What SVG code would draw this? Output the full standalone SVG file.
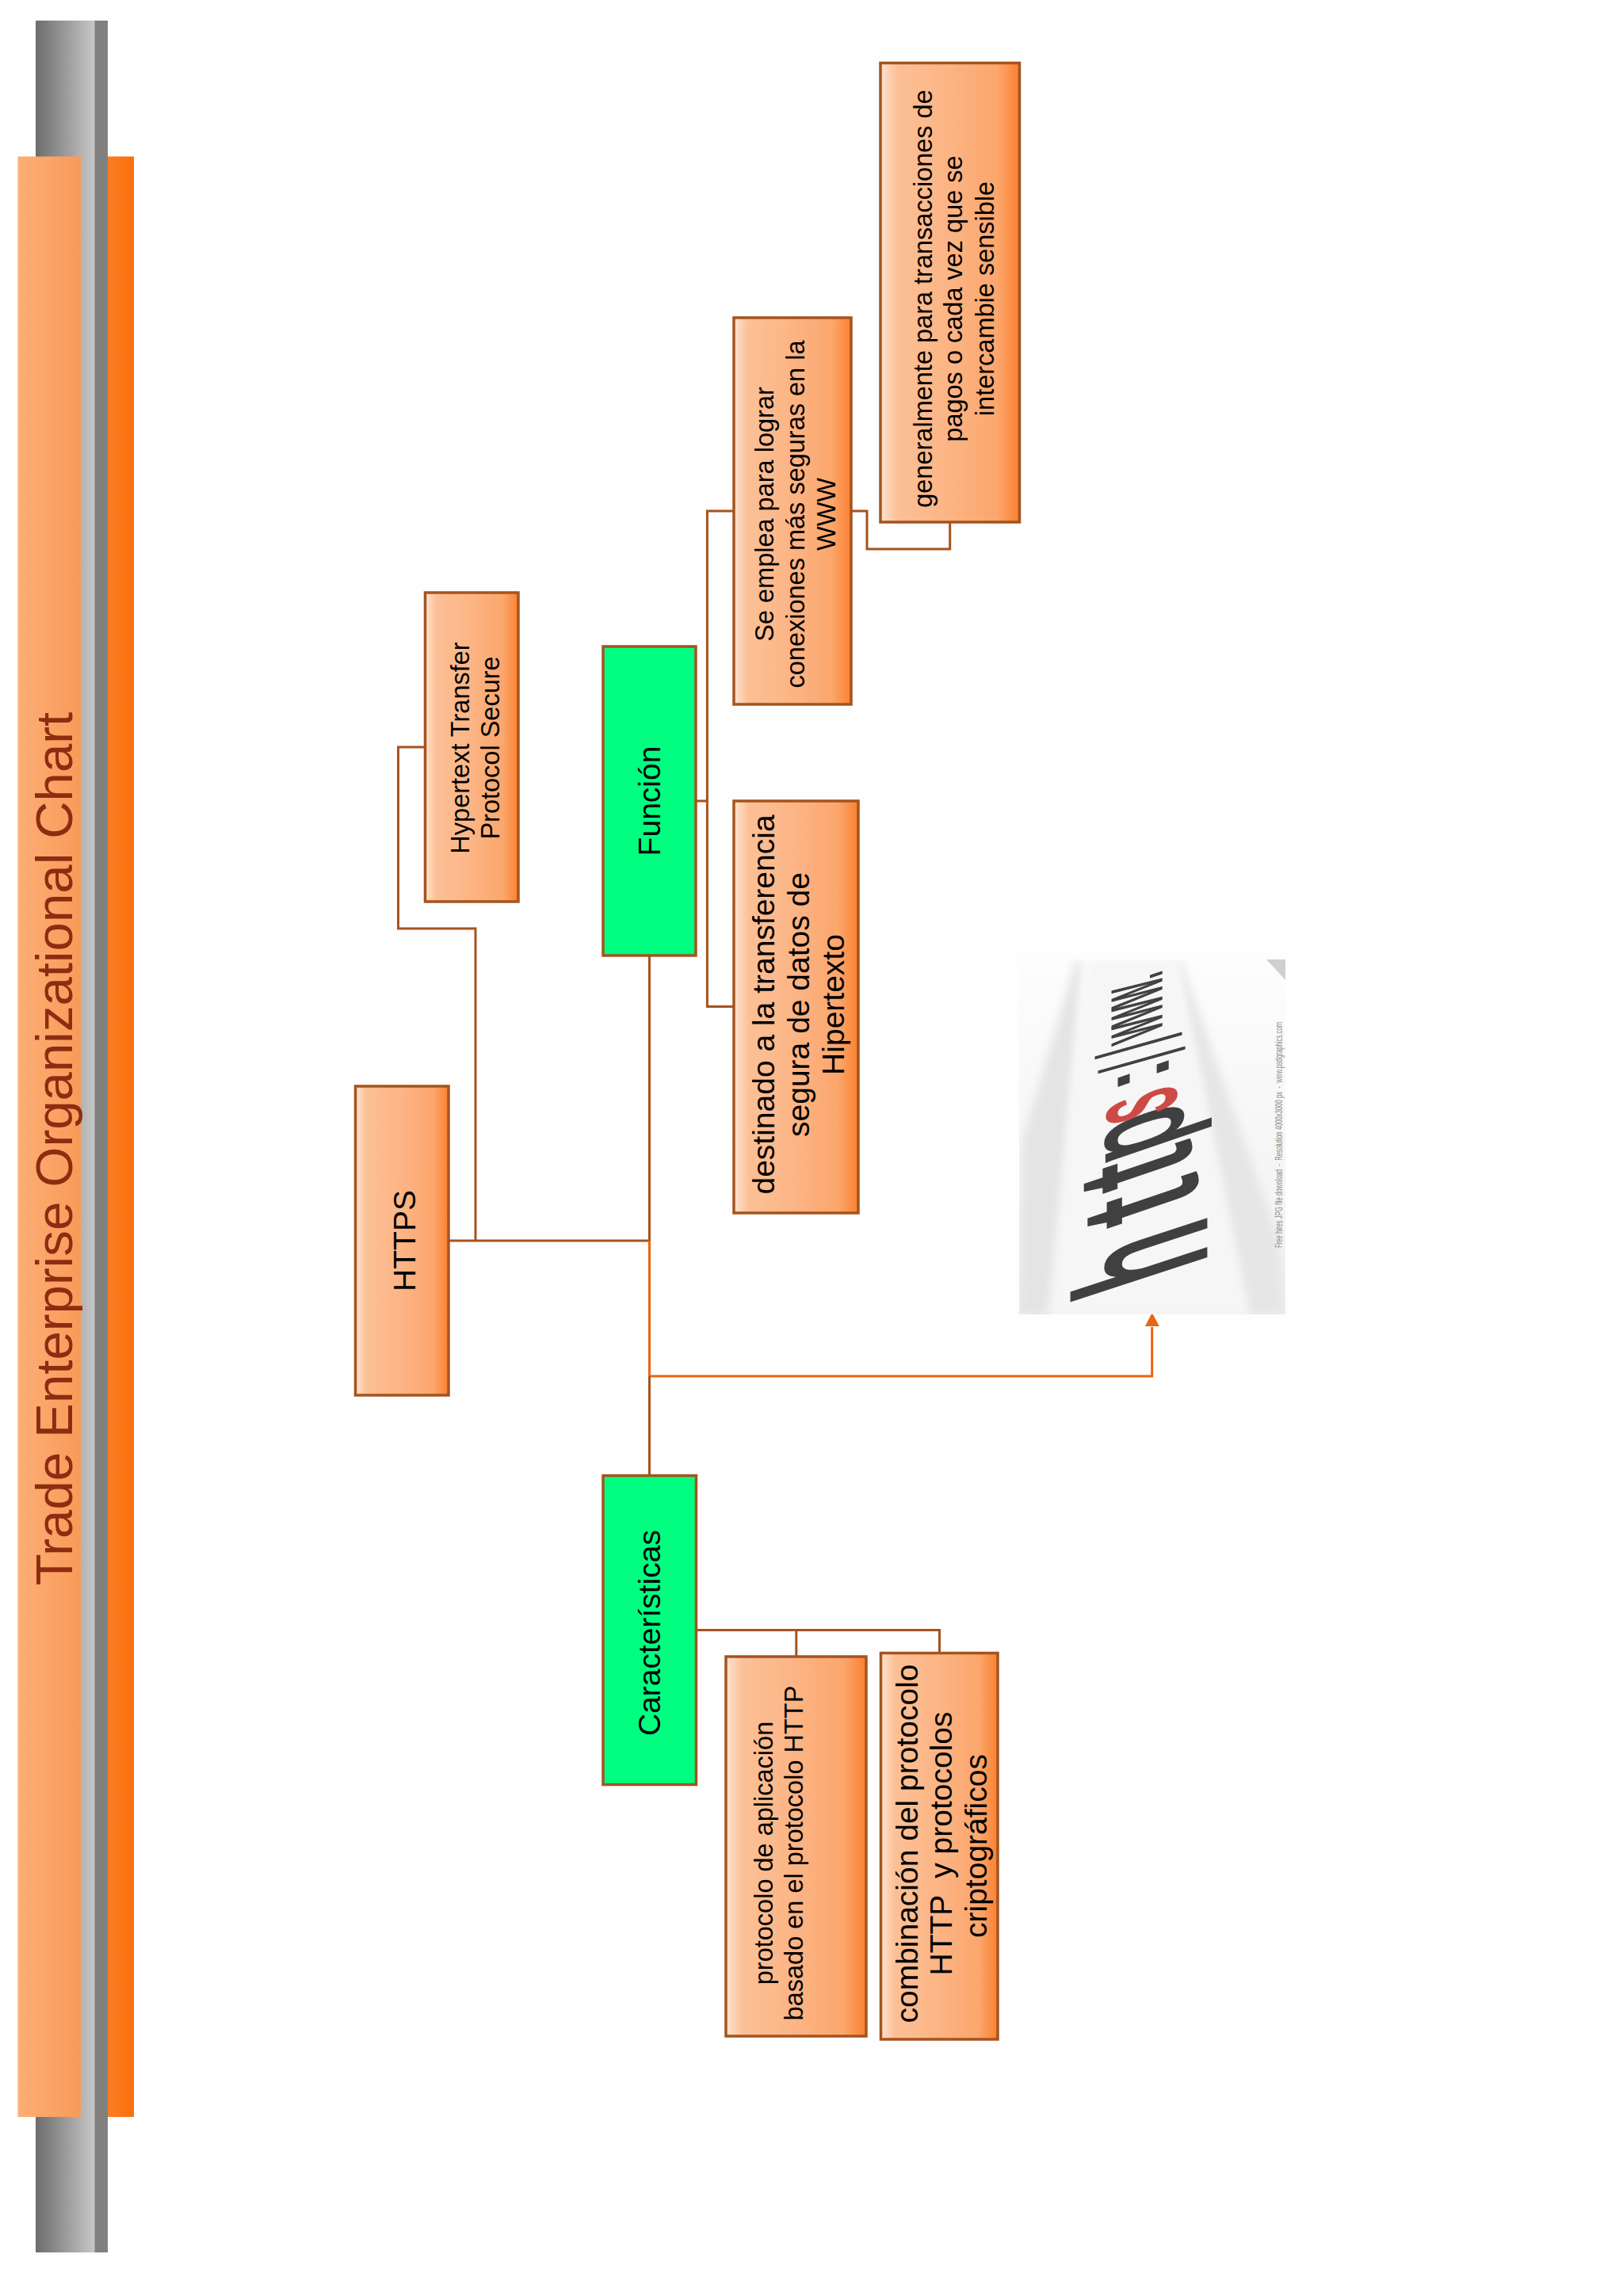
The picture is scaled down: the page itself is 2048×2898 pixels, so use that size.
<svg xmlns="http://www.w3.org/2000/svg" width="2048" height="2898" viewBox="0 0 2048 2898">
<style>
text{font-family:"Liberation Sans",Arial,sans-serif;fill:#000;text-anchor:middle;white-space:pre}
.box{fill:url(#boxFill);stroke:#a5531e;stroke-width:3.5}
.green{fill:#00ff80;stroke:#a5531e;stroke-width:3.5}
.s{font-size:32.500px}
.m{font-size:39px}
.con{fill:none;stroke:#a5531e;stroke-width:3}
.img{font-family:"Liberation Sans",Arial,sans-serif;text-anchor:start;font-size:100px;fill:#404040;stroke:#404040;stroke-width:3}
</style>
<defs>
<linearGradient id="boxFill" x1="0" x2="1" y1="0" y2="0">
<stop offset="0" stop-color="#fde3d0"/><stop offset=".12" stop-color="#fcc096"/><stop offset=".5" stop-color="#fcb484"/><stop offset=".84" stop-color="#fba66c"/><stop offset="1" stop-color="#fb8030"/>
</linearGradient>
<linearGradient id="grayBar" x1="0" x2="1" y1="0" y2="0">
<stop offset="0" stop-color="#6c6c6c"/><stop offset="1" stop-color="#c8c8c8"/>
</linearGradient>
<linearGradient id="peach" x1="0" x2="1" y1="0" y2="0">
<stop offset="0" stop-color="#fdae76"/><stop offset="1" stop-color="#f89a58"/>
</linearGradient>
<linearGradient id="orange" x1="0" x2="1" y1="0" y2="0">
<stop offset="0" stop-color="#fb7d24"/><stop offset="1" stop-color="#fc6e0c"/>
</linearGradient>
<linearGradient id="imgBg" x1="0" x2="0" y1="0" y2="1">
<stop offset="0" stop-color="#fdfdfd"/><stop offset="1" stop-color="#f0f0f0"/>
</linearGradient>
<filter id="soft" x="-20%" y="-20%" width="140%" height="140%"><feGaussianBlur stdDeviation="6"/></filter>
<clipPath id="imgClip"><rect x="1286" y="1211" width="336" height="448"/></clipPath>
</defs>
<rect width="2048" height="2898" fill="#fefefe"/>
<g id="banner">
<rect x="45" y="26" width="75" height="2817" fill="url(#grayBar)"/>
<rect x="136" y="197.500" width="33" height="2474.500" fill="url(#orange)"/>
<rect x="119.500" y="26" width="16.500" height="2817" fill="#808080"/>
<rect x="22.500" y="197.500" width="79.500" height="2474.500" fill="url(#peach)"/>
<text transform="translate(90.700,1450) rotate(-90)" style="font-size:65.400px;fill:#8e2c12">Trade Enterprise Organizational Chart</text>
</g>
<g id="connectors">
<path class="con" d="M566 1566H819.500"/>
<path class="con" d="M600 1566V1172H502.500V943H536.500"/>
<path class="con" d="M819.500 1206V1566"/>
<path class="con" style="stroke:#e8660f" d="M819.500 1566V1737H1453.700V1675"/>
<path class="con" d="M819.500 1737V1862.500"/>
<path class="con" d="M878 1011H892.400"/>
<path class="con" d="M926 645H892.400V1270.600H926"/>
<path class="con" d="M1074 645H1094V693H1198.700V659"/>
<path class="con" d="M878.500 2057.600H1185.500V2086.600"/>
<path class="con" d="M1004.800 2057.600V2091"/>
<path d="M1445 1674L1453.700 1657L1463 1674Z" fill="#e8660f"/>
</g>
<g id="node-https">
<rect class="box" x="448.500" y="1371" width="117.500" height="390"/>
<text class="m" transform="translate(524,1566) rotate(-90)">HTTPS</text>
</g>
<g id="node-hypertext">
<rect class="box" x="536.500" y="748" width="117.500" height="390"/>
<text class="s" transform="translate(592,944) rotate(-90)">Hypertext Transfer</text>
<text class="s" transform="translate(630,944) rotate(-90)">Protocol Secure</text>
</g>
<g id="node-funcion">
<rect class="green" x="761" y="816" width="117" height="390"/>
<text class="m" transform="translate(832.500,1011) rotate(-90)">Función</text>
</g>
<g id="node-destinado">
<rect class="box" x="926" y="1011" width="157" height="520"/>
<text class="m" transform="translate(977,1268) rotate(-90)">destinado a la transferencia</text>
<text class="m" transform="translate(1021,1268) rotate(-90)">segura de datos de</text>
<text class="m" transform="translate(1065,1268) rotate(-90)">Hipertexto</text>
</g>
<g id="node-se-emplea">
<rect class="box" x="926" y="401" width="148" height="488"/>
<text class="s" transform="translate(975.700,649) rotate(-90)">Se emplea para lograr</text>
<text class="s" transform="translate(1015,649) rotate(-90)">conexiones más seguras en la</text>
<text class="s" transform="translate(1054,649) rotate(-90)">WWW</text>
</g>
<g id="node-generalmente">
<rect class="box" x="1111" y="79.500" width="175.500" height="579.500"/>
<text class="s" transform="translate(1175.700,377) rotate(-90)">generalmente para transacciones de</text>
<text class="s" transform="translate(1214,377) rotate(-90)">pagos o cada vez que se</text>
<text class="s" transform="translate(1254,377) rotate(-90)">intercambie sensible</text>
</g>
<g id="node-caracteristicas">
<rect class="green" x="761" y="1862.500" width="117.500" height="390"/>
<text class="m" transform="translate(833,2061) rotate(-90)">Características</text>
</g>
<g id="node-protocolo">
<rect class="box" x="916" y="2091" width="177" height="479"/>
<text class="s" transform="translate(974.500,2339) rotate(-90)">protocolo de aplicación</text>
<text class="s" transform="translate(1012.500,2339) rotate(-90)">basado en el protocolo HTTP</text>
</g>
<g id="node-combinacion">
<rect class="box" x="1111.500" y="2086.500" width="147.500" height="487.500"/>
<text class="m" transform="translate(1158,2327) rotate(-90)">combinación del protocolo</text>
<text class="m" transform="translate(1201,2327) rotate(-90)">HTTP  y protocolos</text>
<text class="m" transform="translate(1245,2330) rotate(-90)">criptográficos</text>
</g>
<g id="picture" clip-path="url(#imgClip)">
<rect x="1286" y="1211" width="336" height="448" fill="url(#imgBg)"/>
<path d="M1286 1660L1290 1440L1358 1211L1366 1211L1325 1660Z" fill="#e4e4e4" filter="url(#soft)"/>
<path d="M1622 1660L1612 1560L1490 1211L1484 1211L1575 1660Z" fill="#e6e6e6" filter="url(#soft)"/>
<path d="M1325 1660L1372 1211L1482 1211L1575 1660Z" fill="#f6f6f6" filter="url(#soft)"/>
<path d="M1598 1211H1622V1237Z" fill="#cfcfcf"/>
<text class="img" transform="matrix(0 -1.1 2.29 -.75 1520 1594)">h</text>
<text class="img" transform="matrix(0 -1.2 2.05 -.7 1508 1513)">t</text>
<text class="img" transform="matrix(0 -1.15 2 -.68 1500 1470)">t</text>
<text class="img" transform="matrix(0 -.95 1.75 -.6 1490 1440)">p</text>
<text class="img" style="fill:#cf4a46;stroke:#cf4a46" transform="matrix(0 -.6 1.57 -.5 1482 1397)">s</text>
<text class="img" transform="matrix(0 -.9 1.15 -.4 1473 1357)">:</text>
<text class="img" transform="matrix(0 -.35 1.44 -.5 1492 1325)">/</text>
<text class="img" transform="matrix(0 -.35 1.44 -.5 1488 1307)">/</text>
<text class="img" transform="matrix(0 -.32 1.15 -.38 1465 1300)">www.</text>
<text transform="translate(1622,1432.500) rotate(-90)" style="font-size:12px;fill:#8a8a8a" textLength="285" lengthAdjust="spacingAndGlyphs" dy="-4">Free hires JPG file download  -  Resolution 4000x3000 px  -  www.psdgraphics.com</text>
</g>
</svg>
